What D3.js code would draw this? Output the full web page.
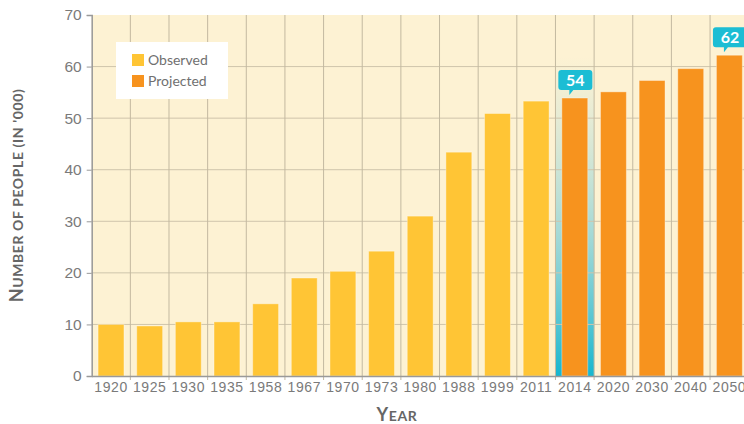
<!DOCTYPE html>
<html lang="en">
<head>
<meta charset="UTF-8">
<title>Number of people</title>
<script src="https://d3js.org/d3.v7.min.js"></script>
<style>
  body { margin: 0; background: #fff; }
  svg { display: block; font-family: Lato, "Open Sans", sans-serif; }
</style>
</head>
<body>
<div id="chart"></div>
<script>
// data
const years = ["1920", "1925", "1930", "1935", "1958", "1967", "1970", "1973", "1980", "1988", "1999", "2011", "2014", "2020", "2030", "2040", "2050"];
const people = [10, 9.7, 10.5, 10.5, 14, 19, 20.3, 24.2, 31, 43.4, 50.9, 53.3, 53.9, 55.1, 57.3, 59.6, 62.2];
const kind = ["obs", "obs", "obs", "obs", "obs", "obs", "obs", "obs", "obs", "obs", "obs", "obs", "proj", "proj", "proj", "proj", "proj"];
const callouts = [{ year: "2014", label: "54" }, { year: "2050", label: "62" }];
const yTicks = [0, 10, 20, 30, 40, 50, 60, 70];
const legendItems = [{ key: "obs", name: "Observed" }, { key: "proj", name: "Projected" }];

const colors = { obs: "#ffc535", proj: "#f7931e" };
const W = 744, H = 424;
const margin = { top: 15, right: 0, bottom: 48, left: 91.7 };
const plotRight = 748.7;

const svg = d3.select("#chart").append("svg")
  .attr("width", W).attr("height", H);

const x = d3.scaleBand().domain(years)
  .range([margin.left, plotRight])
  .paddingInner(0.33).paddingOuter(0.165);
const y = d3.scaleLinear().domain([0, 70]).range([H - margin.bottom, margin.top]);

// band edges (gridlines sit between bars)
const step = x.step();
const bandStart = d => x(d) - x.paddingInner() * step / 2;

// background
svg.append("rect")
  .attr("x", margin.left).attr("y", y(70))
  .attr("width", plotRight - margin.left).attr("height", y(0) - y(70))
  .attr("fill", "#fdf2d3");

// cyan highlight behind 2014
const defs = svg.append("defs");
const grad = defs.append("linearGradient").attr("id", "hl")
  .attr("x1", 0).attr("y1", 1).attr("x2", 0).attr("y2", 0);
grad.append("stop").attr("offset", "0%").attr("stop-color", "#16b6cf").attr("stop-opacity", 1);
grad.append("stop").attr("offset", "45%").attr("stop-color", "#6cc9d8").attr("stop-opacity", 0.6);
grad.append("stop").attr("offset", "100%").attr("stop-color", "#9fd6dc").attr("stop-opacity", 0);

svg.append("rect")
  .attr("x", bandStart("2014")).attr("y", y(62))
  .attr("width", step).attr("height", y(0) - y(62))
  .attr("fill", "url(#hl)");

// gridlines
svg.append("g").selectAll("line").data(yTicks.slice(1, -1)).join("line")
  .attr("x1", margin.left).attr("x2", plotRight)
  .attr("y1", d => y(d)).attr("y2", d => y(d))
  .attr("stroke", "#cfc5ab").attr("stroke-width", 1);

svg.append("g").selectAll("line").data(years.slice(1)).join("line")
  .attr("x1", d => bandStart(d)).attr("x2", d => bandStart(d))
  .attr("y1", y(70)).attr("y2", y(0) + 4)
  .attr("stroke", "#c3b9a0").attr("stroke-width", 1);

// bars
svg.append("g").selectAll("rect").data(years).join("rect")
  .attr("x", d => x(d)).attr("width", x.bandwidth())
  .attr("y", (d, i) => y(people[i]))
  .attr("height", (d, i) => y(0) - y(people[i]))
  .attr("fill", (d, i) => colors[kind[i]])
  .attr("stroke", "rgba(255,255,255,0.35)").attr("stroke-width", 1);

// axes
const yAxis = svg.append("g")
  .attr("transform", `translate(${margin.left},0)`)
  .call(d3.axisLeft(y).tickValues(yTicks).tickSize(5).tickPadding(5));
yAxis.selectAll("text").attr("font-size", 15.5).attr("font-weight", 300).attr("fill", "#7a7a7a");
yAxis.selectAll("line").attr("stroke", "#999");
yAxis.select(".domain").attr("stroke", "#999").attr("stroke-width", 1.5);

const xAxis = svg.append("g")
  .attr("transform", `translate(0,${y(0)})`)
  .call(d3.axisBottom(x).tickSize(0).tickPadding(6));
xAxis.selectAll("text").attr("font-size", 14).attr("font-weight", 300)
  .attr("letter-spacing", 0.6).attr("fill", "#7a7a7a");
xAxis.select(".domain").attr("stroke", "#999").attr("stroke-width", 1.5);

// callouts
const co = svg.append("g").selectAll("g").data(callouts).join("g")
  .attr("transform", d => {
    const v = people[years.indexOf(d.year)];
    return `translate(${x(d.year) - 3.5},${y(v) - 8})`;
  });
co.append("path")
  .attr("d", "M3,-20 H31 Q34,-20 34,-17 V-3 Q34,0 31,0 H15 L11,5 L11,0 H3 Q0,0 0,-3 V-17 Q0,-20 3,-20 Z")
  .attr("fill", "#1cbdd4");
co.append("text")
  .attr("x", 17).attr("y", -4.5)
  .attr("text-anchor", "middle")
  .attr("font-size", 16).attr("font-weight", "bold").attr("fill", "#fff")
  .text(d => d.label);

// legend
const lg = svg.append("g");
lg.append("rect").attr("x", 116).attr("y", 42).attr("width", 112).attr("height", 57)
  .attr("fill", "#fff");
const li = lg.selectAll("g").data(legendItems).join("g")
  .attr("transform", (d, i) => `translate(132,${54 + i * 21})`);
li.append("rect").attr("width", 12).attr("height", 12)
  .attr("fill", d => colors[d.key]);
li.append("text").attr("x", 16).attr("y", 11)
  .attr("font-size", 14).attr("fill", "#707070")
  .text(d => d.name);

// axis titles, small caps built by hand
function smallCaps(sel, text, big, small) {
  sel.append("tspan").attr("font-size", big).text(text[0].toUpperCase());
  sel.append("tspan").attr("font-size", small).text(text.slice(1).toUpperCase());
}
const yTitle = svg.append("text")
  .attr("transform", `translate(23,${(y(0) + y(70)) / 2}) rotate(-90)`)
  .attr("text-anchor", "middle")
  .attr("font-weight", "bold").attr("fill", "#666")
  .attr("letter-spacing", 0.6);
smallCaps(yTitle, "Number of people (in '000)", 18, 14);

const xTitle = svg.append("text")
  .attr("x", 397).attr("y", 421)
  .attr("text-anchor", "middle")
  .attr("font-weight", "bold").attr("fill", "#666")
  .attr("letter-spacing", 0.6);
smallCaps(xTitle, "Year", 18, 14);
</script>
</body>
</html>
